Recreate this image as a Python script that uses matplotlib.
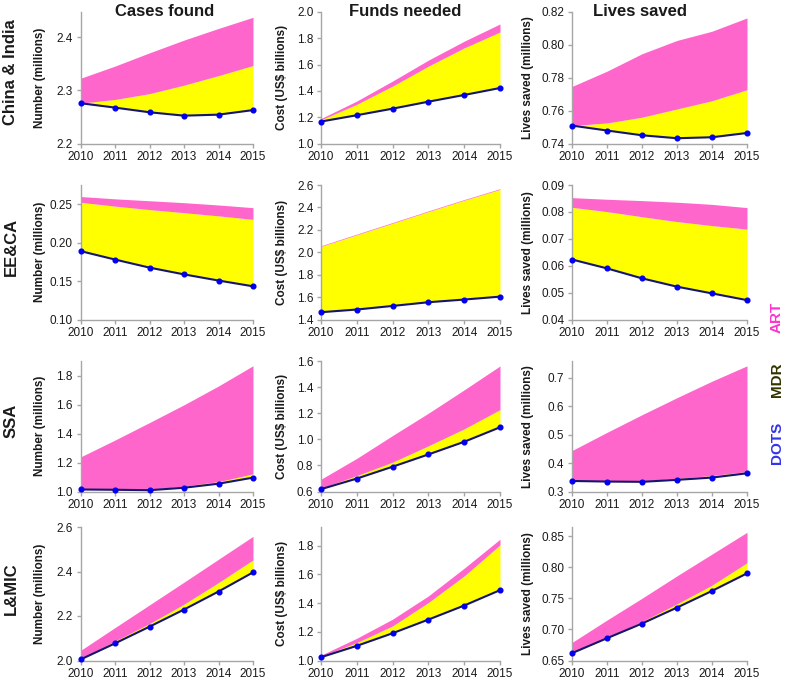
import numpy as np
import matplotlib
matplotlib.use("Agg")
import matplotlib.pyplot as plt

plt.rcParams["font.family"] = ["Liberation Sans", "DejaVu Sans"]

years = [2010, 2011, 2012, 2013, 2014, 2015]

row_names = ["China & India", "EE&CA", "SSA", "L&MIC"]
col_titles = ["Cases found", "Funds needed", "Lives saved"]
col_ylabels = ["Number (millions)", "Cost (US$ billions)", "Lives saved (millions)"]

# each panel: DOTS line, top of DOTS+MDR (yellow), top of DOTS+MDR+ART (pink)
china_cases_dots = [2.276, 2.2677, 2.2589, 2.2525, 2.2544, 2.263]
china_cases_mdr = [2.276, 2.283, 2.294, 2.310, 2.328, 2.347]
china_cases_art = [2.323, 2.346, 2.371, 2.395, 2.417, 2.438]

china_funds_dots = [1.167, 1.215, 1.265, 1.318, 1.369, 1.422]
china_funds_mdr = [1.180, 1.298, 1.437, 1.588, 1.727, 1.848]
china_funds_art = [1.190, 1.323, 1.475, 1.634, 1.778, 1.909]

china_lives_dots = [0.7509, 0.7479, 0.7450, 0.7432, 0.7438, 0.7464]
china_lives_mdr = [0.7509, 0.7525, 0.7560, 0.7610, 0.7660, 0.7727]
china_lives_art = [0.7747, 0.7840, 0.7946, 0.8027, 0.8083, 0.8164]

eeca_cases_dots = [0.189, 0.178, 0.1675, 0.1587, 0.1507, 0.1432]
eeca_cases_mdr = [0.2525, 0.2475, 0.2430, 0.2390, 0.2348, 0.2303]
eeca_cases_art = [0.2600, 0.2570, 0.2545, 0.2520, 0.2490, 0.2455]

eeca_funds_dots = [1.465, 1.489, 1.521, 1.554, 1.578, 1.604]
eeca_funds_mdr = [2.052, 2.156, 2.259, 2.363, 2.464, 2.561]
eeca_funds_art = [2.058, 2.162, 2.265, 2.369, 2.470, 2.567]

eeca_lives_dots = [0.0623, 0.0590, 0.0553, 0.0522, 0.0497, 0.0472]
eeca_lives_mdr = [0.0817, 0.0801, 0.0782, 0.0764, 0.0749, 0.0736]
eeca_lives_art = [0.0853, 0.0847, 0.0842, 0.0836, 0.0828, 0.0816]

ssa_cases_dots = [1.014, 1.012, 1.009, 1.026, 1.054, 1.096]
ssa_cases_mdr = [1.015, 1.013, 1.014, 1.037, 1.068, 1.122]
ssa_cases_art = [1.239, 1.356, 1.477, 1.600, 1.730, 1.870]

ssa_funds_dots = [0.618, 0.699, 0.790, 0.884, 0.981, 1.092]
ssa_funds_mdr = [0.625, 0.722, 0.825, 0.950, 1.080, 1.227]
ssa_funds_art = [0.694, 0.854, 1.029, 1.200, 1.379, 1.562]

ssa_lives_dots = [0.337, 0.335, 0.334, 0.341, 0.349, 0.364]
ssa_lives_mdr = [0.338, 0.337, 0.337, 0.346, 0.356, 0.370]
ssa_lives_art = [0.444, 0.508, 0.570, 0.630, 0.688, 0.742]

lmic_cases_dots = [2.0045, 2.077, 2.152, 2.229, 2.310, 2.396]
lmic_cases_mdr = [2.0075, 2.087, 2.166, 2.253, 2.350, 2.452]
lmic_cases_art = [2.045, 2.148, 2.250, 2.352, 2.455, 2.558]

lmic_funds_dots = [1.023, 1.102, 1.190, 1.285, 1.383, 1.490]
lmic_funds_mdr = [1.028, 1.125, 1.241, 1.404, 1.589, 1.805]
lmic_funds_art = [1.037, 1.155, 1.288, 1.450, 1.643, 1.845]

lmic_lives_dots = [0.6618, 0.6858, 0.7094, 0.7350, 0.7618, 0.7900]
lmic_lives_mdr = [0.6630, 0.6870, 0.7125, 0.7410, 0.7710, 0.8070]
lmic_lives_art = [0.6790, 0.7150, 0.7500, 0.7860, 0.8210, 0.8560]

panels = [
    [(china_cases_dots, china_cases_mdr, china_cases_art),
     (china_funds_dots, china_funds_mdr, china_funds_art),
     (china_lives_dots, china_lives_mdr, china_lives_art)],
    [(eeca_cases_dots, eeca_cases_mdr, eeca_cases_art),
     (eeca_funds_dots, eeca_funds_mdr, eeca_funds_art),
     (eeca_lives_dots, eeca_lives_mdr, eeca_lives_art)],
    [(ssa_cases_dots, ssa_cases_mdr, ssa_cases_art),
     (ssa_funds_dots, ssa_funds_mdr, ssa_funds_art),
     (ssa_lives_dots, ssa_lives_mdr, ssa_lives_art)],
    [(lmic_cases_dots, lmic_cases_mdr, lmic_cases_art),
     (lmic_funds_dots, lmic_funds_mdr, lmic_funds_art),
     (lmic_lives_dots, lmic_lives_mdr, lmic_lives_art)],
]

# y limits and ticks (lo, hi, tick step, label format)
y_axes = [
    [(2.2, 2.448, 0.1, "%.1f"), (1.0, 2.0, 0.2, "%.1f"), (0.74, 0.82, 0.02, "%.2f")],
    [(0.10, 0.275, 0.05, "%.2f"), (1.4, 2.6, 0.2, "%.1f"), (0.04, 0.09, 0.01, "%.2f")],
    [(1.0, 1.903, 0.2, "%.1f"), (0.6, 1.6, 0.2, "%.1f"), (0.3, 0.759, 0.1, "%.1f")],
    [(2.0, 2.6, 0.2, "%.1f"), (1.0, 1.93, 0.2, "%.1f"), (0.65, 0.8645, 0.05, "%.2f")],
]

# layout in pixels of the 787x682 picture
W, H = 787, 682
col_x = [(80.5, 253), (321, 500), (572, 747)]
row_y = [(12, 143.5), (185, 319.5), (361, 491.5), (527, 660.5)]
ylabel_x = [40, 282, 528]
title_x = [165, 405, 640]

pink = "#ff66cc"
yellow = "#ffff00"
spine_grey = "#a6a6a6"

fig = plt.figure(figsize=(W / 100, H / 100), dpi=100)

for r in range(4):
    for c in range(3):
        x0, x1 = col_x[c]
        yt, yb = row_y[r]
        ax = fig.add_axes([x0 / W, 1 - yb / H, (x1 - x0) / W, (yb - yt) / H])
        dots, mdr, art = panels[r][c]
        ax.fill_between(years, dots, mdr, color=yellow, lw=0)
        ax.fill_between(years, mdr, art, color=pink, lw=0)
        ax.plot(years, dots, color="#15156e", lw=1.5, marker="o",
                markersize=3.4, markerfacecolor="#0000ee",
                markeredgecolor="#0000ee", clip_on=False, zorder=5)

        lo, hi, step, fmt = y_axes[r][c]
        ax.set_xlim(2010, 2015)
        ax.set_ylim(lo, hi)
        ticks = np.arange(lo, hi + 1e-9, step)
        ax.set_yticks(ticks)
        ax.set_yticklabels([fmt % t for t in ticks])
        ax.set_xticks(years)
        ax.set_xticklabels([str(y) for y in years])

        for side in ["top", "right"]:
            ax.spines[side].set_visible(False)
        for side in ["left", "bottom"]:
            ax.spines[side].set_color(spine_grey)
            ax.spines[side].set_linewidth(1)
        ax.tick_params(axis="both", colors=spine_grey, labelcolor="#1a1a1a",
                       labelsize=8.5, length=3, width=1, pad=2.5)
        ax.set_facecolor("none")

        fig.text(ylabel_x[c] / W, 1 - (yt + yb) / 2 / H, col_ylabels[c],
                 rotation=90, ha="center", va="center", fontsize=8.5,
                 fontweight="bold", color="#1a1a1a")

    fig.text(11 / W, 1 - (row_y[r][0] + row_y[r][1]) / 2 / H + 0.008, row_names[r],
             rotation=90, ha="center", va="center", fontsize=12,
             fontweight="bold", color="#1a1a1a")

for c in range(3):
    fig.text(title_x[c] / W, 1 - 11 / H, col_titles[c], ha="center", va="center",
             fontsize=12, fontweight="bold", color="#1a1a1a")

# legend labels on the right
fig.text(777 / W, 1 - 317 / H, "ART", rotation=90, ha="center", va="center",
         fontsize=11, fontweight="bold", color="#ff33cc")
fig.text(777 / W, 1 - 380 / H, "MDR", rotation=90, ha="center", va="center",
         fontsize=11, fontweight="bold", color="#333300")
fig.text(777 / W, 1 - 443 / H, "DOTS", rotation=90, ha="center", va="center",
         fontsize=11, fontweight="bold", color="#3333ee")

fig.savefig("out.png", dpi=100)
